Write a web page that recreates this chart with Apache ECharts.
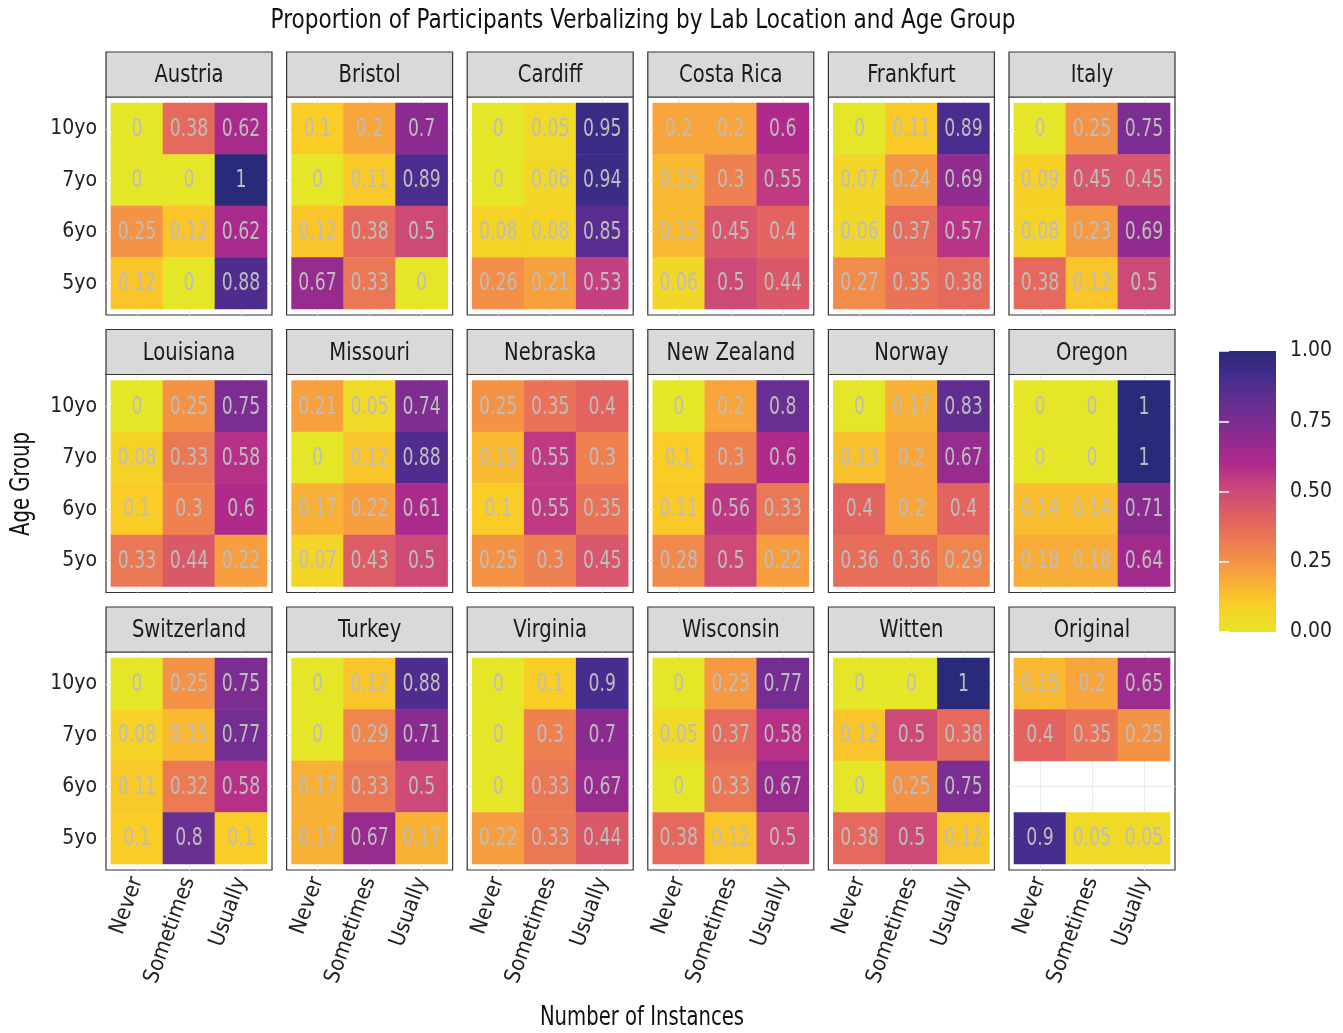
<!DOCTYPE html>
<html><head><meta charset="utf-8">
<script src="https://cdn.jsdelivr.net/npm/echarts@6/dist/echarts.min.js"></script>
<style>html,body{margin:0;padding:0;background:#fff}#chart{width:1343px;height:1033px}</style>
</head><body><div id="chart"></div>
<script>
// ---------- DATA ----------
const instanceLevels = ['Never', 'Sometimes', 'Usually'];
const ageGroups = ['10yo', '7yo', '6yo', '5yo']; // top to bottom, rows of each table
// rows: 10yo, 7yo, 6yo, 5yo ; columns: Never, Sometimes, Usually
const austria     = [[0, 0.38, 0.62], [0, 0, 1], [0.25, 0.12, 0.62], [0.12, 0, 0.88]];
const bristol     = [[0.1, 0.2, 0.7], [0, 0.11, 0.89], [0.12, 0.38, 0.5], [0.67, 0.33, 0]];
const cardiff     = [[0, 0.05, 0.95], [0, 0.06, 0.94], [0.08, 0.08, 0.85], [0.26, 0.21, 0.53]];
const costaRica   = [[0.2, 0.2, 0.6], [0.15, 0.3, 0.55], [0.15, 0.45, 0.4], [0.06, 0.5, 0.44]];
const frankfurt   = [[0, 0.11, 0.89], [0.07, 0.24, 0.69], [0.06, 0.37, 0.57], [0.27, 0.35, 0.38]];
const italy       = [[0, 0.25, 0.75], [0.09, 0.45, 0.45], [0.08, 0.23, 0.69], [0.38, 0.12, 0.5]];
const louisiana   = [[0, 0.25, 0.75], [0.08, 0.33, 0.58], [0.1, 0.3, 0.6], [0.33, 0.44, 0.22]];
const missouri    = [[0.21, 0.05, 0.74], [0, 0.12, 0.88], [0.17, 0.22, 0.61], [0.07, 0.43, 0.5]];
const nebraska    = [[0.25, 0.35, 0.4], [0.15, 0.55, 0.3], [0.1, 0.55, 0.35], [0.25, 0.3, 0.45]];
const newZealand  = [[0, 0.2, 0.8], [0.1, 0.3, 0.6], [0.11, 0.56, 0.33], [0.28, 0.5, 0.22]];
const norway      = [[0, 0.17, 0.83], [0.13, 0.2, 0.67], [0.4, 0.2, 0.4], [0.36, 0.36, 0.29]];
const oregon      = [[0, 0, 1], [0, 0, 1], [0.14, 0.14, 0.71], [0.18, 0.18, 0.64]];
const switzerland = [[0, 0.25, 0.75], [0.08, 0.15, 0.77], [0.11, 0.32, 0.58], [0.1, 0.8, 0.1]];
const turkey      = [[0, 0.12, 0.88], [0, 0.29, 0.71], [0.17, 0.33, 0.5], [0.17, 0.67, 0.17]];
const virginia    = [[0, 0.1, 0.9], [0, 0.3, 0.7], [0, 0.33, 0.67], [0.22, 0.33, 0.44]];
const wisconsin   = [[0, 0.23, 0.77], [0.05, 0.37, 0.58], [0, 0.33, 0.67], [0.38, 0.12, 0.5]];
const witten      = [[0, 0, 1], [0.12, 0.5, 0.38], [0, 0.25, 0.75], [0.38, 0.5, 0.12]];
const original    = [[0.15, 0.2, 0.65], [0.4, 0.35, 0.25], null, [0.9, 0.05, 0.05]];

const locations = ['Austria', 'Bristol', 'Cardiff', 'Costa Rica', 'Frankfurt', 'Italy',
  'Louisiana', 'Missouri', 'Nebraska', 'New Zealand', 'Norway', 'Oregon',
  'Switzerland', 'Turkey', 'Virginia', 'Wisconsin', 'Witten', 'Original'];
const locationValues = [austria, bristol, cardiff, costaRica, frankfurt, italy,
  louisiana, missouri, nebraska, newZealand, norway, oregon,
  switzerland, turkey, virginia, wisconsin, witten, original];
const colorbarTicks = [0, 0.25, 0.5, 0.75, 1];

// ---------- STYLE / LAYOUT ----------
const FONT = "'DejaVu Sans Condensed', 'Liberation Sans Narrow', sans-serif";
const palette = ['#e6e628', '#f9cd26', '#f8a53c', '#ef8150', '#e2635f', '#cd4a78',
  '#b02a8c', '#8c2b8f', '#6a2f92', '#472d8e', '#2a2a7a'];
const NCOL = 6, L0 = 106, DX = 180.6, PW = 166, T0 = 97, DY = 277.5, PH = 218, SH = 45;
const XPAD = 0.096, YPAD = 0.117;

const grids = [], xAxes = [], yAxes = [], series = [], graphics = [];
const nY = ageGroups.length;

locations.forEach((name, i) => {
  const c = i % NCOL, r = Math.floor(i / NCOL);
  const left = L0 + c * DX, top = T0 + r * DY;
  const isBottom = r === 2, isLeft = c === 0;
  grids.push({left, top, width: PW, height: PH, show: true, backgroundColor: '#fff',
    borderColor: '#333', borderWidth: 1.2});
  xAxes.push({gridIndex: i, type: 'value', min: -0.5 - XPAD, max: instanceLevels.length - 0.5 + XPAD,
    axisLine: {show: false},
    axisTick: {show: isBottom, customValues: instanceLevels.map((_, k) => k), length: 6, lineStyle: {color: '#333'}},
    axisLabel: {show: isBottom, customValues: instanceLevels.map((_, k) => k), rotate: 70, margin: 8,
      formatter: v => instanceLevels[Math.round(v)], fontSize: 22, color: '#222', fontFamily: FONT},
    splitLine: {show: true, lineStyle: {color: '#ebebeb', width: 1}}});
  yAxes.push({gridIndex: i, type: 'value', min: -0.5 - YPAD, max: nY - 0.5 + YPAD,
    axisLine: {show: false},
    axisTick: {show: isLeft, customValues: ageGroups.map((_, k) => k), length: 6, lineStyle: {color: '#333'}},
    axisLabel: {show: isLeft, customValues: ageGroups.map((_, k) => k), margin: 9,
      formatter: v => ageGroups[nY - 1 - Math.round(v)], fontSize: 21, color: '#222', fontFamily: FONT},
    splitLine: {show: true, lineStyle: {color: '#ebebeb', width: 1}}});
  const cells = [];
  locationValues[i].forEach((row, ri) => {
    if (!row) return;
    row.forEach((v, ci) => cells.push([ci, nY - 1 - ri, v]));
  });
  series.push({type: 'custom', xAxisIndex: i, yAxisIndex: i, data: cells, encode: {x: 0, y: 1},
    renderItem: (params, api) => {
      const p = api.coord([api.value(0), api.value(1)]);
      const s = api.size([1, 1]);
      const v = api.value(2);
      return {type: 'group', children: [
        {type: 'rect', shape: {x: p[0] - s[0] / 2 - 0.3, y: p[1] - s[1] / 2 - 0.3, width: s[0] + 0.6, height: s[1] + 0.6},
          style: {fill: api.visual('color')}},
        {type: 'text', x: p[0], y: p[1] + 1, scaleX: 0.8,
          style: {text: String(v), x: 0, y: 0, align: 'center', verticalAlign: 'middle',
          fill: '#bdbdbd', fontSize: 24, fontFamily: FONT}}
      ]};
    }});
  graphics.push({type: 'rect', shape: {x: left, y: top - SH, width: PW, height: SH},
    style: {fill: '#d9d9d9', stroke: '#333', lineWidth: 1.2}, z: 10});
  graphics.push({type: 'text', x: left + PW / 2, y: top - SH / 2 + 1, scaleX: 0.87, z: 11,
    style: {text: name, fontSize: 25, fontFamily: FONT, fill: '#1a1a1a', align: 'center', verticalAlign: 'middle'}});
});

// colour bar grid
const cb = locations.length;
grids.push({left: 1219, top: 351, width: 57, height: 281, show: false});
xAxes.push({gridIndex: cb, type: 'value', min: 0, max: 1, show: false});
yAxes.push({gridIndex: cb, type: 'value', min: 0, max: 1, position: 'right', z: 5,
  axisLine: {show: false}, splitLine: {show: false},
  axisTick: {show: true, inside: true, length: 10, customValues: colorbarTicks, lineStyle: {color: '#fff', width: 1.5}},
  axisLabel: {customValues: colorbarTicks, formatter: v => v.toFixed(2), fontSize: 21, color: '#222', fontFamily: FONT, margin: 14}});
yAxes.push({gridIndex: cb, type: 'value', min: 0, max: 1, position: 'left', z: 5,
  axisLine: {show: false}, splitLine: {show: false}, axisLabel: {show: false},
  axisTick: {show: true, inside: true, length: 10, customValues: colorbarTicks, lineStyle: {color: '#fff', width: 1.5}}});
series.push({type: 'custom', xAxisIndex: cb, yAxisIndex: cb, data: [[0, 0]], silent: true,
  renderItem: (params, api) => {
    const p0 = api.coord([0, colorbarTicks[0]]);
    const p1 = api.coord([1, colorbarTicks[colorbarTicks.length - 1]]);
    const stops = palette.map((col, k) => ({offset: k / (palette.length - 1), color: col}));
    return {type: 'rect', shape: {x: p0[0], y: p1[1], width: p1[0] - p0[0], height: p0[1] - p1[1]},
      style: {fill: new echarts.graphic.LinearGradient(0, 1, 0, 0, stops)}};
  }});

// titles
graphics.push({type: 'text', x: 643, y: 21, scaleX: 0.89, style: {text: 'Proportion of Participants Verbalizing by Lab Location and Age Group',
  fontSize: 27, fontFamily: FONT, fill: '#111', align: 'center', verticalAlign: 'middle'}});
graphics.push({type: 'text', x: 642, y: 1018, scaleX: 0.84, style: {text: 'Number of Instances',
  fontSize: 26, fontFamily: FONT, fill: '#111', align: 'center', verticalAlign: 'middle'}});
graphics.push({type: 'text', x: 22, y: 484, rotation: Math.PI / 2, scaleX: 0.84, style: {text: 'Age Group',
  fontSize: 26, fontFamily: FONT, fill: '#111', align: 'center', verticalAlign: 'middle'}});

const chart = echarts.init(document.getElementById('chart'), null, {renderer: 'canvas'});
chart.setOption({
  animation: false,
  backgroundColor: '#fff',
  grid: grids, xAxis: xAxes, yAxis: yAxes, series,
  visualMap: {show: false, type: 'continuous', min: 0, max: 1, dimension: 2,
    seriesIndex: locations.map((_, k) => k), inRange: {color: palette}},
  graphic: graphics
});
</script></body></html>
